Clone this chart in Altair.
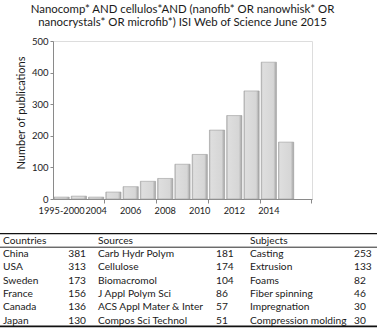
import altair as alt
import pandas as pd

# ---- data ----
categories = ["1995-2000", "2001-2003", "2004", "2005", "2006", "2007", "2008",
              "2009", "2010", "2011", "2012", "2013", "2014", "2015", "2016"]
publications = [6, 9, 6, 22, 39, 56, 65, 110, 141, 218, 264, 342, 433, 180]
shown_labels = ["1995-2000", "2004", "2006", "2008", "2010", "2012", "2014"]
tick_after = ["2004", "2007", "2010", "2013", "2016"]

title_lines = ["Nanocomp* AND cellulos*AND (nanofib* OR nanowhisk* OR",
               "nanocrystals* OR microfib*) ISI Web of Science June 2015"]

headers = ["Countries", "Sources", "Subjects"]
countries = ["China", "USA", "Sweden", "France", "Canada", "Japan"]
country_n = [381, 313, 173, 156, 136, 130]
sources = ["Carb Hydr Polym", "Cellulose", "Biomacromol", "J Appl Polym Sci",
           "ACS Appl Mater & Inter", "Compos Sci Technol"]
source_n = [181, 174, 104, 86, 57, 51]
subjects = ["Casting", "Extrusion", "Foams", "Fiber spinning", "Impregnation",
            "Compression molding"]
subject_n = [253, 133, 82, 46, 30, 30]

FONT = "Lato"
TXT = "#1a1a1a"
AX = "#8a8a8a"

bars_df = pd.DataFrame({"year": categories[:len(publications)], "count": publications})

xs = alt.Scale(domain=categories, paddingInner=0.12, paddingOuter=0.06)
ys = alt.Scale(domain=[0, 500])

bar_fill = alt.Gradient(
    gradient="linear", x1=0, x2=1, y1=0, y2=0,
    stops=[alt.GradientStop(offset=0, color="#b8b8b8"),
           alt.GradientStop(offset=0.1, color="#dedede"),
           alt.GradientStop(offset=0.8, color="#d6d6d6"),
           alt.GradientStop(offset=1, color="#a2a2a2")])

bars = alt.Chart(bars_df).mark_bar(fill=bar_fill, stroke="#9c9c9c", strokeWidth=0.6).encode(
    x=alt.X("year:N", scale=xs, sort=categories, title=None,
            axis=alt.Axis(values=shown_labels, ticks=False, labelAngle=0,
                          labelFontSize=9.2, labelFont=FONT, labelColor=TXT,
                          labelPadding=7, domainColor=AX, labelOverlap=False)),
    y=alt.Y("count:Q", scale=ys, title="Number of publications",
            axis=alt.Axis(values=[0, 100, 200, 300, 400, 500], grid=False,
                          tickSize=3, tickColor=AX, domainColor=AX,
                          labelFontSize=9.5, labelFont=FONT, labelColor=TXT,
                          labelPadding=2, titleFont=FONT, titleFontSize=11,
                          titleFontWeight="normal", titleColor=TXT,
                          titlePadding=5, titleY=71.5)),
)

tick_layer = alt.Chart(bars_df).mark_bar(opacity=0).encode(
    x=alt.X("year:N", scale=xs, sort=categories, title=None,
            axis=alt.Axis(orient="bottom", values=tick_after, labels=False,
                          domain=False, tickSize=4, tickColor=AX,
                          bandPosition=1.068)),
    y=alt.Y("count:Q", scale=ys, axis=None),
)

# ---- table ----
row_scale = alt.Scale(domain=[0, 6], range=[199.5, 279.7])

def col_layer(header, items, xpos, align="left"):
    df = pd.DataFrame({"row": list(range(0, len(items) + 1)),
                       "label": [header] + [str(v) for v in items]})
    return alt.Chart(df).mark_text(align=align, baseline="middle", font=FONT,
                                   fontSize=10.2, color=TXT).encode(
        x=alt.value(xpos),
        y=alt.Y("row:Q", scale=row_scale, axis=None),
        text="label:N")

table_layers = [
    col_layer(headers[0], countries, -50),
    col_layer("", country_n, 33, align="right"),
    col_layer(headers[1], sources, 45),
    col_layer("", source_n, 163),
    col_layer(headers[2], subjects, 197),
    col_layer("", subject_n, 301),
]

def hline(ypx, w):
    return alt.Chart(pd.DataFrame({"k": [0]})).mark_rule(color="#111", strokeWidth=w).encode(
        x=alt.value(-53), x2=alt.value(324), y=alt.value(ypx))

lines = [hline(192.6, 1.4), hline(206.2, 0.9), hline(285.4, 1.8)]

chart = alt.layer(bars, tick_layer, *table_layers, *lines).resolve_scale(
    x="independent", y="independent"
).properties(
    width=259, height=158,
    autosize=alt.AutoSizeParams(type="none"),
    padding={"left": 53, "top": 41, "right": 65, "bottom": 130},
    title=alt.TitleParams(text=title_lines, font=FONT, fontSize=11.4,
                          fontWeight="normal", color=TXT, lineHeight=12.5,
                          anchor="middle", frame="group", offset=8),
).configure_view(strokeWidth=0).configure(background="white")

chart.save("out.html", embed_options={"renderer": "svg", "actions": False})
